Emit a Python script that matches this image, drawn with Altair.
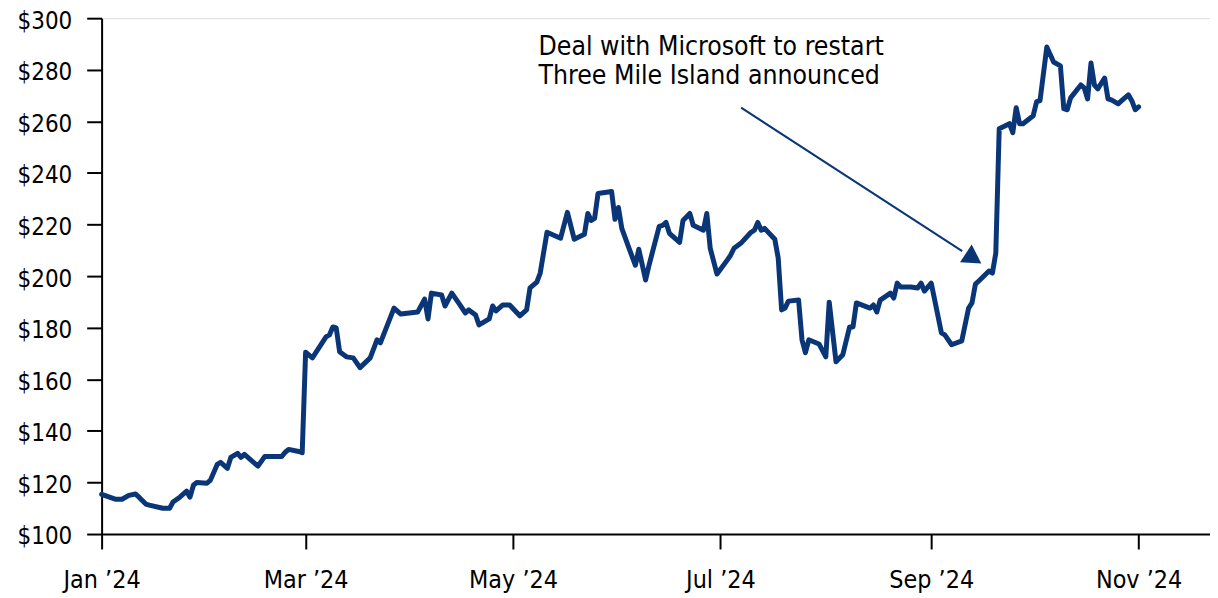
import altair as alt
import pandas as pd

# Price series (date, closing price in $)
dates = [
    "2024-01-01", "2024-01-05", "2024-01-07", "2024-01-09", "2024-01-11", "2024-01-12",
    "2024-01-14", "2024-01-15", "2024-01-19", "2024-01-21", "2024-01-22", "2024-01-24",
    "2024-01-26", "2024-01-27", "2024-01-28", "2024-01-29", "2024-02-01", "2024-02-02",
    "2024-02-04", "2024-02-05", "2024-02-07", "2024-02-08", "2024-02-10", "2024-02-11",
    "2024-02-12", "2024-02-16", "2024-02-18", "2024-02-23", "2024-02-24", "2024-02-25",
    "2024-02-28", "2024-02-29", "2024-03-01", "2024-03-03", "2024-03-07", "2024-03-08",
    "2024-03-09", "2024-03-10", "2024-03-11", "2024-03-13", "2024-03-15", "2024-03-17",
    "2024-03-20", "2024-03-22", "2024-03-23", "2024-03-27", "2024-03-29", "2024-04-03",
    "2024-04-05", "2024-04-06", "2024-04-07", "2024-04-10", "2024-04-11", "2024-04-13",
    "2024-04-15", "2024-04-17", "2024-04-18", "2024-04-20", "2024-04-21", "2024-04-24",
    "2024-04-25", "2024-04-26", "2024-04-28", "2024-04-30", "2024-05-03", "2024-05-05",
    "2024-05-06", "2024-05-08", "2024-05-09", "2024-05-11", "2024-05-15", "2024-05-17",
    "2024-05-19", "2024-05-22", "2024-05-23", "2024-05-24", "2024-05-25", "2024-05-26",
    "2024-05-30", "2024-05-31", "2024-06-01", "2024-06-02", "2024-06-04", "2024-06-06",
    "2024-06-07", "2024-06-09", "2024-06-10", "2024-06-13", "2024-06-14", "2024-06-15",
    "2024-06-16", "2024-06-19", "2024-06-20", "2024-06-22", "2024-06-23", "2024-06-26",
    "2024-06-27", "2024-06-28", "2024-06-30", "2024-07-03", "2024-07-04", "2024-07-05",
    "2024-07-07", "2024-07-10", "2024-07-11", "2024-07-12", "2024-07-13", "2024-07-14",
    "2024-07-17", "2024-07-18", "2024-07-19", "2024-07-20", "2024-07-21", "2024-07-24",
    "2024-07-25", "2024-07-26", "2024-07-27", "2024-07-30", "2024-08-01", "2024-08-02",
    "2024-08-04", "2024-08-06", "2024-08-08", "2024-08-09", "2024-08-10", "2024-08-14",
    "2024-08-15", "2024-08-16", "2024-08-17", "2024-08-20", "2024-08-21", "2024-08-22",
    "2024-08-23", "2024-08-26", "2024-08-28", "2024-08-29", "2024-08-30", "2024-09-01",
    "2024-09-04", "2024-09-05", "2024-09-07", "2024-09-10", "2024-09-12", "2024-09-13",
    "2024-09-14", "2024-09-15", "2024-09-18", "2024-09-19", "2024-09-20", "2024-09-21",
    "2024-09-24", "2024-09-25", "2024-09-26", "2024-09-27", "2024-09-28", "2024-10-01",
    "2024-10-02", "2024-10-03", "2024-10-05", "2024-10-07", "2024-10-09", "2024-10-10",
    "2024-10-11", "2024-10-12", "2024-10-15", "2024-10-16", "2024-10-17", "2024-10-18",
    "2024-10-19", "2024-10-20", "2024-10-22", "2024-10-23", "2024-10-24", "2024-10-26",
    "2024-10-27", "2024-10-29", "2024-10-30", "2024-10-31", "2024-11-01",
]
prices = [
    115.4, 113.5, 113.5, 115.0, 115.5, 114.3,
    111.6, 111.2, 110.0, 110.0, 112.4, 114.3,
    116.6, 114.3, 118.9, 120.0, 119.7, 120.9,
    127.0, 127.8, 125.5, 129.7, 131.3, 129.7,
    130.9, 126.3, 130.1, 130.1, 131.7, 132.8,
    132.0, 131.5, 170.5, 168.3, 176.4, 177.2,
    180.3, 179.9, 170.7, 168.7, 168.3, 164.5,
    168.3, 175.3, 174.1, 187.6, 185.3, 186.1,
    191.1, 183.4, 193.4, 192.7, 188.4, 193.4,
    189.6, 185.7, 186.9, 184.9, 181.1, 183.4,
    188.4, 186.5, 188.8, 188.8, 184.6, 186.9,
    195.4, 197.7, 201.2, 217.0, 214.7, 224.7,
    214.3, 216.2, 224.3, 221.6, 222.4, 232.0,
    232.8, 222.0, 226.6, 218.5, 211.2, 204.2,
    210.4, 198.5, 204.2, 219.3, 219.7, 220.8,
    216.6, 213.1, 221.6, 224.3, 219.7, 217.8,
    224.3, 210.8, 200.8, 206.2, 208.1, 210.8,
    212.7, 217.0, 217.8, 220.8, 217.8, 218.5,
    214.3, 207.0, 186.9, 187.6, 190.3, 190.7,
    175.3, 170.3, 175.3, 173.7, 168.7, 189.9,
    166.8, 169.5, 180.3, 180.3, 189.6, 187.6,
    188.8, 186.1, 190.7, 193.4, 191.5, 197.3,
    195.8, 195.8, 195.4, 197.3, 194.2, 197.3,
    178.0, 177.2, 173.4, 174.9, 187.6, 189.6,
    196.9, 198.1, 202.0, 201.2, 208.9, 257.1,
    259.1, 255.6, 265.3, 259.1, 259.1, 262.2,
    267.6, 268.0, 288.8, 283.0, 281.5, 264.9,
    264.5, 269.1, 274.1, 273.0, 268.7, 282.6,
    274.1, 272.6, 276.8, 268.7, 268.3, 266.8,
    268.0, 270.3, 268.0, 264.5, 265.6,
]

y_ticks = [100, 120, 140, 160, 180, 200, 220, 240, 260, 280, 300]
x_tick_months = [1, 3, 5, 7, 9, 11]

annotation_lines = ["Deal with Microsoft to restart", "Three Mile Island announced"]
annotation_dates = ["2024-05-08T12:00:00", "2024-05-08T12:00:00"]
annotation_values = [285.8, 274.6]

arrow_start = ("2024-07-07T02:00:00", 265.3)
arrow_end = ("2024-09-10T03:00:00", 209.7)
arrow_head = ("2024-09-12T17:00:00", 207.5)

FONT = "DejaVu Sans Condensed"
NAVY = "#0A3677"

df = pd.DataFrame({"date": pd.to_datetime(dates), "price": prices})

x_scale = alt.Scale(
    domain=[alt.DateTime(year=2024, month=1, date=1), alt.DateTime(year=2024, month=11, date=22)]
)
y_scale = alt.Scale(domain=[100, 300], nice=False)

x_axis = alt.Axis(
    values=[alt.DateTime(year=2024, month=m, date=1) for m in x_tick_months],
    format="%b \u201924",
    title=None,
    grid=False,
    labelFont=FONT,
    labelFontSize=25,
    labelColor="#000000",
    labelPadding=19,
    labelFlush=False,
    tickSize=15,
    tickWidth=2,
    tickColor="#000000",
    domainColor="#000000",
    domainWidth=2,
)
y_axis = alt.Axis(
    values=y_ticks,
    format="$,.0f",
    title=None,
    grid=False,
    labelFont=FONT,
    labelFontSize=24,
    labelColor="#000000",
    labelPadding=15,
    labelOffset=3,
    labelFlush=False,
    tickSize=15,
    tickWidth=2,
    tickColor="#000000",
    domainColor="#000000",
    domainWidth=2,
)

line = alt.Chart(df).mark_line(color=NAVY, strokeWidth=5, strokeJoin="round", strokeCap="round").encode(
    x=alt.X("date:T", scale=x_scale, axis=x_axis),
    y=alt.Y("price:Q", scale=y_scale, axis=y_axis),
)

ann_df = pd.DataFrame({
    "date": pd.to_datetime(annotation_dates),
    "price": annotation_values,
    "label": annotation_lines,
})
ann = alt.Chart(ann_df).mark_text(
    align="left", baseline="alphabetic", font=FONT, fontSize=26.5, color="#000000"
).encode(
    x=alt.X("date:T", scale=x_scale),
    y=alt.Y("price:Q", scale=y_scale),
    text="label:N",
)

arrow_df = pd.DataFrame({
    "date": [pd.Timestamp(arrow_start[0])],
    "price": [arrow_start[1]],
    "date2": [pd.Timestamp(arrow_end[0])],
    "price2": [arrow_end[1]],
})
arrow = alt.Chart(arrow_df).mark_rule(color=NAVY, strokeWidth=2).encode(
    x=alt.X("date:T", scale=x_scale),
    y=alt.Y("price:Q", scale=y_scale),
    x2="date2:T",
    y2="price2:Q",
)

head_df = pd.DataFrame({"date": [pd.Timestamp(arrow_head[0])], "price": [arrow_head[1]]})
head = alt.Chart(head_df).mark_point(
    shape="triangle", filled=True, color=NAVY, size=460, angle=123, opacity=1
).encode(
    x=alt.X("date:T", scale=x_scale),
    y=alt.Y("price:Q", scale=y_scale),
)

chart = alt.layer(line, arrow, head, ann).properties(
    width=1113,
    height=518,
    autosize=alt.AutoSizeParams(type="none"),
    padding={"left": 94, "top": 9, "right": 0, "bottom": 60},
).configure_view(stroke=None).configure(background="white")

chart.save("out.html", embed_options={"renderer": "svg", "actions": False})
